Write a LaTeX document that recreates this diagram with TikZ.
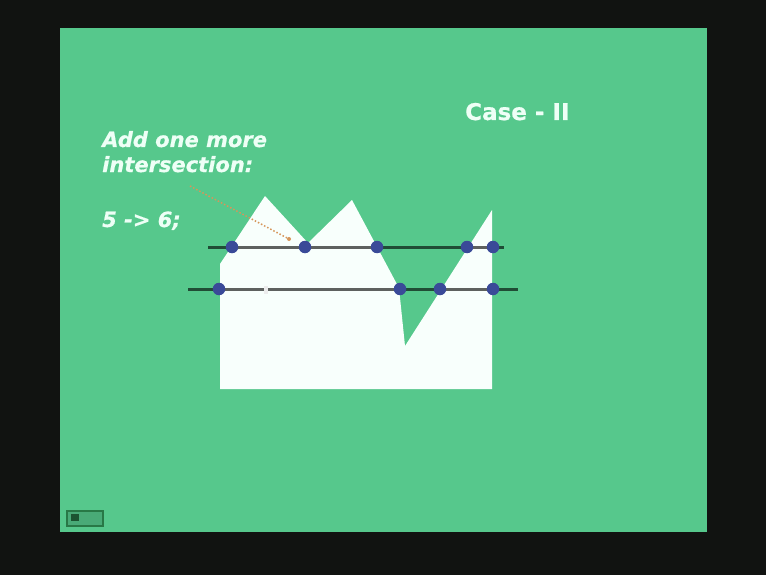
\documentclass[tikz,border=0pt]{standalone}
\usepackage{fontspec}
\setmainfont{DejaVu Sans}
\newfontfamily\heavyfont{DejaVu Sans}[UprightFont={* Bold},ItalicFont={* Bold Oblique},FakeBold=0.6]
\definecolor{frame}{RGB}{17,19,17}
\definecolor{slide}{RGB}{86,200,140}
\definecolor{shapewhite}{RGB}{248,255,252}
\definecolor{dotblue}{RGB}{58,74,152}
\definecolor{textwhite}{RGB}{238,255,246}
\definecolor{pointer}{RGB}{214,150,90}
\definecolor{icongreen}{RGB}{40,120,70}
\tikzset{
  scanline/.style={draw=black,draw opacity=0.62,line width=3pt},
  hit/.style={circle,fill=dotblue,inner sep=0pt,minimum size=12.5pt},
  slidetext/.style={text=textwhite,font=\fontsize{21pt}{24pt}\heavyfont\itshape,anchor=base west,inner sep=0pt},
  titletext/.style={text=textwhite,font=\fontsize{23pt}{26pt}\heavyfont,anchor=base west,inner sep=0pt},
  pointerline/.style={draw=pointer,dotted,line width=1.5pt},
}
\begin{document}
\begin{tikzpicture}[x=1pt,y=-1pt]
\useasboundingbox (0,0) rectangle (766,575);
\fill[frame] (0,0) rectangle (766,575);
\fill[slide] (60,28) rectangle (707,532);
% small icon bottom left
\draw[icongreen,line width=1.2pt,fill=slide!85!black] (67,511) rectangle (103,526);
\fill[icongreen!70!black] (71,514) rectangle (79,521);
% polygon
\coordinate (p1) at (220,389);
\coordinate (p2) at (220,264);
\coordinate (p3) at (265,196);
\coordinate (p4) at (308,243);
\coordinate (p5) at (352,200);
\coordinate (p6) at (399,288);
\coordinate (p7) at (405,346);
\coordinate (p8) at (492,210);
\coordinate (p9) at (492,389);
\fill[shapewhite] (p1) -- (p2) -- (p3) -- (p4) -- (p5) -- (p6) -- (p7) -- (p8) -- (p9) -- cycle;
% scan lines
\coordinate (l1a) at (208,247);
\coordinate (l1b) at (504,247);
\coordinate (l2a) at (188,289);
\coordinate (l2b) at (518,289);
\draw[scanline] (l1a) -- (l1b);
\draw[scanline] (l2a) -- (l2b);
% intersection dots
\node[hit] (a1) at (232,247) {};
\node[hit] (a2) at (305,247) {};
\node[hit] (a3) at (377,247) {};
\node[hit] (a4) at (467,247) {};
\node[hit] (a5) at (493,247) {};
\node[hit] (b1) at (219,289) {};
\node[hit] (b2) at (400,289) {};
\node[hit] (b3) at (440,289) {};
\node[hit] (b4) at (493,289) {};
% small cursor mark
\fill[white!85!gray] (264,286) rectangle (268,294);
% texts
\node[titletext] (title) at (465,120) {Case - II};
\node[slidetext] (t1) at (102,147) {Add one more};
\node[slidetext] (t2) at (102,172) {intersection:};
\node[slidetext] (t3) at (102,227) {5 -> 6;};
% pointer
\coordinate (ps) at (190,186);
\node[circle,fill=pointer,inner sep=0pt,minimum size=4pt] (pe) at (289,239) {};
\draw[pointerline] (ps) -- (pe);
\end{tikzpicture}
\end{document}
